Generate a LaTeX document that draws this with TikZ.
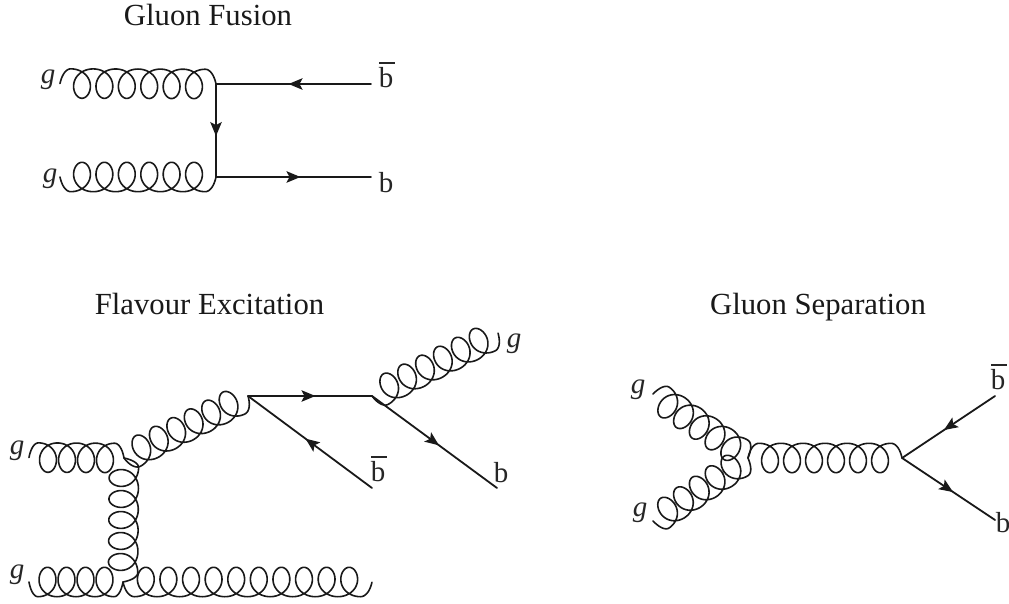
\documentclass[tikz,border=0pt]{standalone}
\usepackage{fontspec}
\setmainfont{Liberation Serif}
\usetikzlibrary{arrows.meta,decorations.markings}
\tikzset{
  wire/.style={line width=1.8pt,line cap=round,line join=round,black!90},
  curl/.style={line width=1.6pt,line cap=round,line join=round,black!90},
  ferm/.style={wire,postaction={decorate},decoration={markings,mark=at position #1 with {\arrow{Stealth[length=14pt,width=11.5pt,inset=3pt]}}}},
  title/.style={font=\fontsize{30.7}{36}\selectfont,inner sep=0pt,anchor=base,text=black!90},
  lab/.style={font=\fontsize{29}{34}\selectfont,inner sep=0pt,text=black!85},
}
\newcommand\barb{\makebox[0pt][l]{\raisebox{24pt}{\rule{16pt}{1.8pt}}}b}
% \gluon{from}{to}{loops}{pitch}{side}
\newcommand\gluon[5]{%
  \pgfpointanchor{#1}{center}\pgfgetlastxy{\gax}{\gay}%
  \pgfpointanchor{#2}{center}\pgfgetlastxy{\gbx}{\gby}%
  \pgfmathsetmacro\glen{veclen(\gbx-\gax,\gby-\gay)}%
  \pgfmathsetmacro\gang{atan2(\gby-\gay,\gbx-\gax)}%
  \pgfmathsetmacro\gae{(\glen-#4*(#3+0.5))/2}%
  \pgfmathsetmacro\gamp{9.0+0.213*#4}%
  \pgfmathsetmacro\gend{#3+0.25}%
  \pgfmathtruncatemacro\gsam{60*(#3+0.5)+1}%
  \begin{scope}[shift={(#1)},rotate=\gang,x=1pt,y=1pt]
    \draw[curl] plot[variable=\t,domain=-0.25:\gend,samples=\gsam]
      ({\gae+#4*(\t+0.25)+ifthenelse(or(\t<0,\t>#3),\gae,\gamp)*sin(360*\t)*(1+0.08*cos(360*\t))},{#5*14.7*cos(360*\t)});
  \end{scope}}
\begin{document}
\begin{tikzpicture}[x=1pt,y=-1pt]
\useasboundingbox (0,0) rectangle (1009,604);
% Gluon fusion
\node[title] (t1) at (208,26) {Gluon Fusion};
\coordinate (a1) at (60,83.5);
\coordinate (a2) at (60,177);
\coordinate (v1) at (216,84);
\coordinate (v2) at (216,177);
\coordinate (e1) at (371,84);
\coordinate (e2) at (371,177);
\gluon{a1}{v1}{6}{22.4}{1}
\gluon{a2}{v2}{6}{22.4}{-1}
\draw[ferm=.532] (e1) -- (v1);
\draw[ferm=.56] (v1) -- (v2);
\draw[ferm=.545] (v2) -- (e2);
\node[lab] (l1) at (48,80) {\textit{g}};
\node[lab] (l2) at (50,179) {\textit{g}};
\node[lab] (l3) at (386,75) {\barb};
\node[lab] (l4) at (386,183) {b};
% Flavour excitation
\node[title] (t2) at (209.5,314) {Flavour Excitation};
\coordinate (b1) at (29,457.5);
\coordinate (b2) at (29,582);
\coordinate (c1) at (124,458);
\coordinate (c2) at (123,582);
\coordinate (c3) at (372,582);
\coordinate (c4) at (248,396);
\coordinate (c5) at (372,396);
\coordinate (c6) at (498,333);
\coordinate (c7) at (372,488);
\coordinate (c8) at (497,488);
\gluon{b1}{c1}{4}{19}{1}
\gluon{b2}{c2}{4}{19}{-1}
\gluon{c2}{c3}{10}{22.6}{-1}
\gluon{c1}{c2}{5}{21}{1}
\gluon{c1}{c4}{6}{19.5}{-1}
\gluon{c5}{c6}{6}{20}{-1}
\draw[ferm=.544] (c4) -- (c5);
\draw[ferm=.536] (c7) -- (c4);
\draw[ferm=.536] (c5) -- (c8);
\node[lab] (l5) at (17,451) {\textit{g}};
\node[lab] (l6) at (17,575) {\textit{g}};
\node[lab] (l7) at (514,344) {\textit{g}};
\node[lab] (l8) at (378,469) {\barb};
\node[lab] (l9) at (501,473) {b};
% Gluon separation
\node[title] (t3) at (818,314) {Gluon Separation};
\coordinate (d1) at (653,394);
\coordinate (d2) at (653,521);
\coordinate (d3) at (748,458);
\coordinate (d4) at (902,458);
\coordinate (d5) at (995,396);
\coordinate (d6) at (995,520);
\gluon{d1}{d3}{5}{19}{1}
\gluon{d2}{d3}{5}{19}{-1}
\gluon{d3}{d4}{6}{22}{1}
\draw[ferm=.55] (d5) -- (d4);
\draw[ferm=.55] (d4) -- (d6);
\node[lab] (l10) at (638,390) {\textit{g}};
\node[lab] (l11) at (640,513) {\textit{g}};
\node[lab] (l12) at (998,377) {\barb};
\node[lab] (l13) at (1003,523) {b};
\end{tikzpicture}
\end{document}
